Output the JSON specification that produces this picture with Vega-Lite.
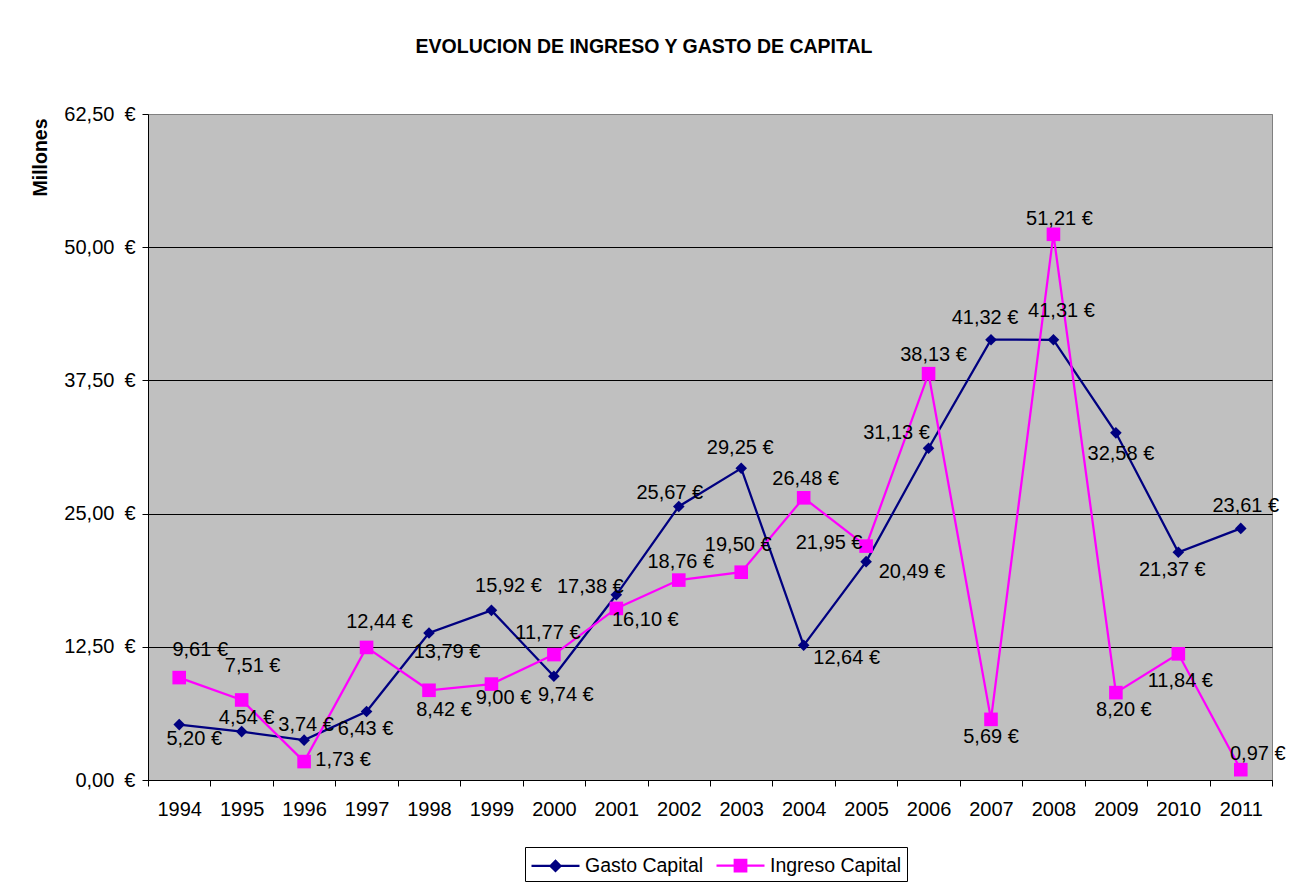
{
  "$schema": "https://vega.github.io/schema/vega-lite/v6.json",
  "autosize": {"type": "none"},
  "padding": {"left": 148, "top": 114, "right": 20, "bottom": 108},
  "width": 1124,
  "height": 666,
  "background": "white",
  "title": {"text": "EVOLUCION DE INGRESO Y GASTO DE CAPITAL", "fontSize": 19.5, "fontWeight": "bold", "font": "Liberation Sans", "color": "black", "anchor": "middle", "frame": "group", "dx": -66, "offset": 47},
  "data": {"values": [
    {"year": "1994", "series": "Gasto Capital", "value": 5.20},
    {"year": "1995", "series": "Gasto Capital", "value": 4.54},
    {"year": "1996", "series": "Gasto Capital", "value": 3.74},
    {"year": "1997", "series": "Gasto Capital", "value": 6.43},
    {"year": "1998", "series": "Gasto Capital", "value": 13.79},
    {"year": "1999", "series": "Gasto Capital", "value": 15.92},
    {"year": "2000", "series": "Gasto Capital", "value": 9.74},
    {"year": "2001", "series": "Gasto Capital", "value": 17.38},
    {"year": "2002", "series": "Gasto Capital", "value": 25.67},
    {"year": "2003", "series": "Gasto Capital", "value": 29.25},
    {"year": "2004", "series": "Gasto Capital", "value": 12.64},
    {"year": "2005", "series": "Gasto Capital", "value": 20.49},
    {"year": "2006", "series": "Gasto Capital", "value": 31.13},
    {"year": "2007", "series": "Gasto Capital", "value": 41.32},
    {"year": "2008", "series": "Gasto Capital", "value": 41.31},
    {"year": "2009", "series": "Gasto Capital", "value": 32.58},
    {"year": "2010", "series": "Gasto Capital", "value": 21.37},
    {"year": "2011", "series": "Gasto Capital", "value": 23.61},
    {"year": "1994", "series": "Ingreso Capital", "value": 9.61},
    {"year": "1995", "series": "Ingreso Capital", "value": 7.51},
    {"year": "1996", "series": "Ingreso Capital", "value": 1.73},
    {"year": "1997", "series": "Ingreso Capital", "value": 12.44},
    {"year": "1998", "series": "Ingreso Capital", "value": 8.42},
    {"year": "1999", "series": "Ingreso Capital", "value": 9.00},
    {"year": "2000", "series": "Ingreso Capital", "value": 11.77},
    {"year": "2001", "series": "Ingreso Capital", "value": 16.10},
    {"year": "2002", "series": "Ingreso Capital", "value": 18.76},
    {"year": "2003", "series": "Ingreso Capital", "value": 19.50},
    {"year": "2004", "series": "Ingreso Capital", "value": 26.48},
    {"year": "2005", "series": "Ingreso Capital", "value": 21.95},
    {"year": "2006", "series": "Ingreso Capital", "value": 38.13},
    {"year": "2007", "series": "Ingreso Capital", "value": 5.69},
    {"year": "2008", "series": "Ingreso Capital", "value": 51.21},
    {"year": "2009", "series": "Ingreso Capital", "value": 8.20},
    {"year": "2010", "series": "Ingreso Capital", "value": 11.84},
    {"year": "2011", "series": "Ingreso Capital", "value": 0.97}
  ]},
  "encoding": {
    "x": {"field": "year", "type": "ordinal", "scale": {"type": "band", "paddingInner": 0, "paddingOuter": 0},
      "axis": {"title": null, "labelAngle": 0, "tickBand": "extent", "labelPadding": 13, "grid": false}},
    "y": {"field": "value", "type": "quantitative", "scale": {"domain": [0, 62.5], "nice": false, "zero": true},
      "axis": {"title": "Millones", "titleFontWeight": "bold", "titleFontSize": 19.5, "titleColor": "black", "titleAngle": 270, "titleX": -108, "titleY": 4, "titleAlign": "right", "titleBaseline": "middle",
        "values": [0, 12.5, 25, 37.5, 50, 62.5], "labelExpr": "replace(format(datum.value, '.2f'), '.', ',') + '\u2002€'", "labelPadding": 7, "grid": true,
        "gridColor": {"condition": {"test": "datum.value >= 62.5", "value": "#808080"}, "value": "black"}, "gridOpacity": 1, "gridWidth": 1}}
  },
  "layer": [
    {"transform": [{"filter": "datum.series == 'Gasto Capital'"}], "mark": {"type": "line", "color": "#000080", "strokeWidth": 2.25}},
    {"transform": [{"filter": "datum.series == 'Gasto Capital'"}], "mark": {"type": "point", "shape": "diamond", "filled": true, "size": 135, "color": "#000080", "opacity": 1}},
    {"transform": [{"filter": "datum.series == 'Ingreso Capital'"}], "mark": {"type": "line", "color": "#FF00FF", "strokeWidth": 2.25}},
    {"transform": [{"filter": "datum.series == 'Ingreso Capital'"}], "mark": {"type": "point", "shape": "square", "filled": true, "size": 185, "color": "#FF00FF", "opacity": 1}},

    {"transform": [{"filter": "datum.series == 'Gasto Capital' && datum.year == '1994'"}], "mark": {"type": "text", "dx": 15, "dy": 14}, "encoding": {"text": {"field": "value", "type": "quantitative", "format": "$.2f"}}},
    {"transform": [{"filter": "datum.series == 'Gasto Capital' && datum.year == '1995'"}], "mark": {"type": "text", "dx": 5, "dy": -14}, "encoding": {"text": {"field": "value", "type": "quantitative", "format": "$.2f"}}},
    {"transform": [{"filter": "datum.series == 'Gasto Capital' && datum.year == '1996'"}], "mark": {"type": "text", "dx": 2, "dy": -15}, "encoding": {"text": {"field": "value", "type": "quantitative", "format": "$.2f"}}},
    {"transform": [{"filter": "datum.series == 'Gasto Capital' && datum.year == '1997'"}], "mark": {"type": "text", "dx": -1, "dy": 18}, "encoding": {"text": {"field": "value", "type": "quantitative", "format": "$.2f"}}},
    {"transform": [{"filter": "datum.series == 'Gasto Capital' && datum.year == '1998'"}], "mark": {"type": "text", "dx": 18, "dy": 19}, "encoding": {"text": {"field": "value", "type": "quantitative", "format": "$.2f"}}},
    {"transform": [{"filter": "datum.series == 'Gasto Capital' && datum.year == '1999'"}], "mark": {"type": "text", "dx": 17, "dy": -24}, "encoding": {"text": {"field": "value", "type": "quantitative", "format": "$.2f"}}},
    {"transform": [{"filter": "datum.series == 'Gasto Capital' && datum.year == '2000'"}], "mark": {"type": "text", "dx": 12, "dy": 19}, "encoding": {"text": {"field": "value", "type": "quantitative", "format": "$.2f"}}},
    {"transform": [{"filter": "datum.series == 'Gasto Capital' && datum.year == '2001'"}], "mark": {"type": "text", "dx": -26, "dy": -8}, "encoding": {"text": {"field": "value", "type": "quantitative", "format": "$.2f"}}},
    {"transform": [{"filter": "datum.series == 'Gasto Capital' && datum.year == '2002'"}], "mark": {"type": "text", "dx": -9, "dy": -13}, "encoding": {"text": {"field": "value", "type": "quantitative", "format": "$.2f"}}},
    {"transform": [{"filter": "datum.series == 'Gasto Capital' && datum.year == '2003'"}], "mark": {"type": "text", "dx": -1, "dy": -20}, "encoding": {"text": {"field": "value", "type": "quantitative", "format": "$.2f"}}},
    {"transform": [{"filter": "datum.series == 'Gasto Capital' && datum.year == '2004'"}], "mark": {"type": "text", "dx": 43, "dy": 13}, "encoding": {"text": {"field": "value", "type": "quantitative", "format": "$.2f"}}},
    {"transform": [{"filter": "datum.series == 'Gasto Capital' && datum.year == '2005'"}], "mark": {"type": "text", "dx": 46, "dy": 10}, "encoding": {"text": {"field": "value", "type": "quantitative", "format": "$.2f"}}},
    {"transform": [{"filter": "datum.series == 'Gasto Capital' && datum.year == '2006'"}], "mark": {"type": "text", "dx": -32, "dy": -15}, "encoding": {"text": {"field": "value", "type": "quantitative", "format": "$.2f"}}},
    {"transform": [{"filter": "datum.series == 'Gasto Capital' && datum.year == '2007'"}], "mark": {"type": "text", "dx": -6, "dy": -22}, "encoding": {"text": {"field": "value", "type": "quantitative", "format": "$.2f"}}},
    {"transform": [{"filter": "datum.series == 'Gasto Capital' && datum.year == '2008'"}], "mark": {"type": "text", "dx": 8, "dy": -29}, "encoding": {"text": {"field": "value", "type": "quantitative", "format": "$.2f"}}},
    {"transform": [{"filter": "datum.series == 'Gasto Capital' && datum.year == '2009'"}], "mark": {"type": "text", "dx": 5, "dy": 21}, "encoding": {"text": {"field": "value", "type": "quantitative", "format": "$.2f"}}},
    {"transform": [{"filter": "datum.series == 'Gasto Capital' && datum.year == '2010'"}], "mark": {"type": "text", "dx": -6, "dy": 18}, "encoding": {"text": {"field": "value", "type": "quantitative", "format": "$.2f"}}},
    {"transform": [{"filter": "datum.series == 'Gasto Capital' && datum.year == '2011'"}], "mark": {"type": "text", "dx": 5, "dy": -22}, "encoding": {"text": {"field": "value", "type": "quantitative", "format": "$.2f"}}},

    {"transform": [{"filter": "datum.series == 'Ingreso Capital' && datum.year == '1994'"}], "mark": {"type": "text", "dx": 21, "dy": -28}, "encoding": {"text": {"field": "value", "type": "quantitative", "format": "$.2f"}}},
    {"transform": [{"filter": "datum.series == 'Ingreso Capital' && datum.year == '1995'"}], "mark": {"type": "text", "dx": 11, "dy": -34}, "encoding": {"text": {"field": "value", "type": "quantitative", "format": "$.2f"}}},
    {"transform": [{"filter": "datum.series == 'Ingreso Capital' && datum.year == '1996'"}], "mark": {"type": "text", "dx": 39, "dy": -2}, "encoding": {"text": {"field": "value", "type": "quantitative", "format": "$.2f"}}},
    {"transform": [{"filter": "datum.series == 'Ingreso Capital' && datum.year == '1997'"}], "mark": {"type": "text", "dx": 13, "dy": -25}, "encoding": {"text": {"field": "value", "type": "quantitative", "format": "$.2f"}}},
    {"transform": [{"filter": "datum.series == 'Ingreso Capital' && datum.year == '1998'"}], "mark": {"type": "text", "dx": 15, "dy": 20}, "encoding": {"text": {"field": "value", "type": "quantitative", "format": "$.2f"}}},
    {"transform": [{"filter": "datum.series == 'Ingreso Capital' && datum.year == '1999'"}], "mark": {"type": "text", "dx": 12, "dy": 14}, "encoding": {"text": {"field": "value", "type": "quantitative", "format": "$.2f"}}},
    {"transform": [{"filter": "datum.series == 'Ingreso Capital' && datum.year == '2000'"}], "mark": {"type": "text", "dx": -6, "dy": -22}, "encoding": {"text": {"field": "value", "type": "quantitative", "format": "$.2f"}}},
    {"transform": [{"filter": "datum.series == 'Ingreso Capital' && datum.year == '2001'"}], "mark": {"type": "text", "dx": 29, "dy": 12}, "encoding": {"text": {"field": "value", "type": "quantitative", "format": "$.2f"}}},
    {"transform": [{"filter": "datum.series == 'Ingreso Capital' && datum.year == '2002'"}], "mark": {"type": "text", "dx": 2, "dy": -18}, "encoding": {"text": {"field": "value", "type": "quantitative", "format": "$.2f"}}},
    {"transform": [{"filter": "datum.series == 'Ingreso Capital' && datum.year == '2003'"}], "mark": {"type": "text", "dx": -3, "dy": -27}, "encoding": {"text": {"field": "value", "type": "quantitative", "format": "$.2f"}}},
    {"transform": [{"filter": "datum.series == 'Ingreso Capital' && datum.year == '2004'"}], "mark": {"type": "text", "dx": 2, "dy": -19}, "encoding": {"text": {"field": "value", "type": "quantitative", "format": "$.2f"}}},
    {"transform": [{"filter": "datum.series == 'Ingreso Capital' && datum.year == '2005'"}], "mark": {"type": "text", "dx": -37, "dy": -3}, "encoding": {"text": {"field": "value", "type": "quantitative", "format": "$.2f"}}},
    {"transform": [{"filter": "datum.series == 'Ingreso Capital' && datum.year == '2006'"}], "mark": {"type": "text", "dx": 5, "dy": -19}, "encoding": {"text": {"field": "value", "type": "quantitative", "format": "$.2f"}}},
    {"transform": [{"filter": "datum.series == 'Ingreso Capital' && datum.year == '2007'"}], "mark": {"type": "text", "dx": 0, "dy": 18}, "encoding": {"text": {"field": "value", "type": "quantitative", "format": "$.2f"}}},
    {"transform": [{"filter": "datum.series == 'Ingreso Capital' && datum.year == '2008'"}], "mark": {"type": "text", "dx": 6, "dy": -15}, "encoding": {"text": {"field": "value", "type": "quantitative", "format": "$.2f"}}},
    {"transform": [{"filter": "datum.series == 'Ingreso Capital' && datum.year == '2009'"}], "mark": {"type": "text", "dx": 8, "dy": 17}, "encoding": {"text": {"field": "value", "type": "quantitative", "format": "$.2f"}}},
    {"transform": [{"filter": "datum.series == 'Ingreso Capital' && datum.year == '2010'"}], "mark": {"type": "text", "dx": 2, "dy": 27}, "encoding": {"text": {"field": "value", "type": "quantitative", "format": "$.2f"}}},
    {"transform": [{"filter": "datum.series == 'Ingreso Capital' && datum.year == '2011'"}], "mark": {"type": "text", "dx": 17, "dy": -16}, "encoding": {"text": {"field": "value", "type": "quantitative", "format": "$.2f"}}},

    {"transform": [{"filter": "false"}], "mark": {"type": "point", "filled": true, "opacity": 1},
      "encoding": {
        "fill": {"field": "series", "type": "nominal", "scale": {"domain": ["Gasto Capital", "Ingreso Capital"], "range": ["#000080", "#FF00FF"]},
          "legend": {"orient": "none", "legendX": 377, "legendY": 733, "direction": "horizontal", "title": null, "symbolSize": 576, "symbolStrokeWidth": 2.25, "symbolOpacity": 1, "symbolFillOpacity": 1, "labelFontSize": 19.5, "labelColor": "black", "labelFont": "Liberation Sans", "labelOffset": 28, "columnPadding": 8, "padding": 5, "strokeColor": "black", "fillColor": "white"}},
        "stroke": {"field": "series", "type": "nominal", "scale": {"domain": ["Gasto Capital", "Ingreso Capital"], "range": ["#000080", "#FF00FF"]}},
        "shape": {"field": "series", "type": "nominal", "scale": {"domain": ["Gasto Capital", "Ingreso Capital"], "range": ["M-1,0H3M0.58,0L1,-0.42L1.42,0L1,0.42Z", "M-1,0H3M0.52,-0.48H1.48V0.48H0.52Z"]}}
      }}
  ],
  "config": {
    "font": "Liberation Sans",
    "locale": {"number": {"decimal": ",", "thousands": ".", "grouping": [3], "currency": ["", " €"]}},
    "view": {"fill": "#C0C0C0", "stroke": "#808080", "strokeWidth": 1},
    "text": {"fontSize": 20, "font": "Liberation Sans", "color": "black"},
    "axis": {"labelFont": "Liberation Sans", "labelFontSize": 20, "labelColor": "black", "tickColor": "black", "domainColor": "black", "tickSize": 6, "titleFont": "Liberation Sans"}
  }
}
